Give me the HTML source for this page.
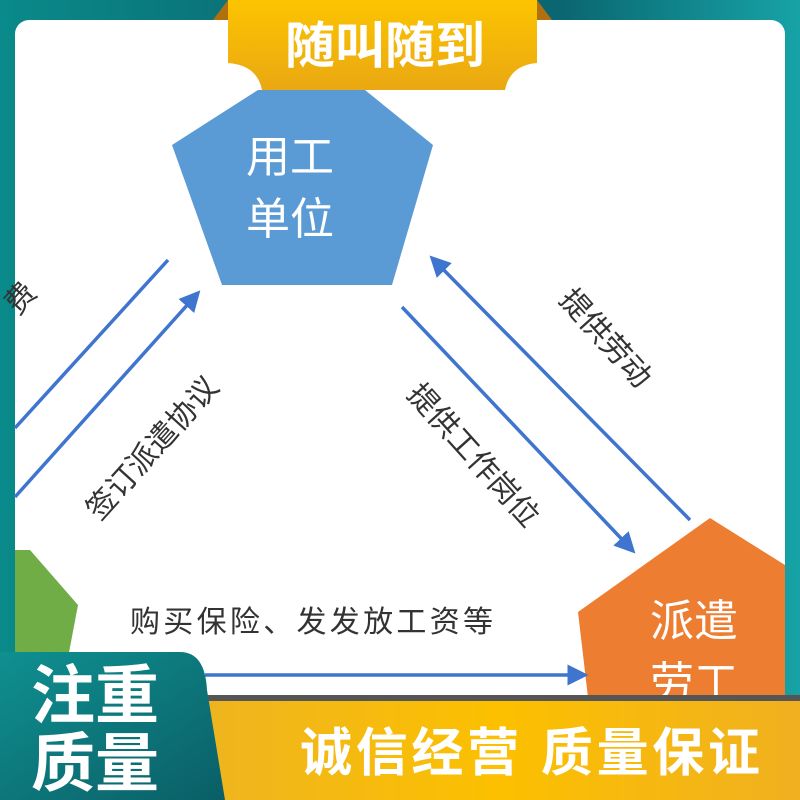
<!DOCTYPE html>
<html><head><meta charset="utf-8"><style>
html,body{margin:0;padding:0;}
body{width:800px;height:800px;overflow:hidden;position:relative;background:linear-gradient(90deg,#0a8a8a,#0b6a72 40%,#0a6670 70%,#17a3a6);font-family:"Liberation Sans","Noto Sans CJK SC",sans-serif;}
.panel{position:absolute;left:15px;top:20px;width:770px;height:780px;background:#fff;border-radius:14px 14px 0 0;}
svg{position:absolute;left:0;top:0;}
</style></head><body>
<div class="panel"></div>
<svg width="800" height="800" viewBox="0 0 800 800">
<defs>
<linearGradient id="yt" x1="0" y1="0" x2="0" y2="1"><stop offset="0" stop-color="#fcc400"/><stop offset="1" stop-color="#eaa812"/></linearGradient>
<linearGradient id="yb" x1="0" y1="0" x2="1" y2="0"><stop offset="0" stop-color="#eeb420"/><stop offset="0.5" stop-color="#fcc000"/><stop offset="1" stop-color="#f0b020"/></linearGradient>
<linearGradient id="tl" x1="0" y1="0" x2="1" y2="1"><stop offset="0" stop-color="#0f9090"/><stop offset="1" stop-color="#0a5e66"/></linearGradient>
<marker id="ah" markerWidth="6" markerHeight="6" refX="5" refY="3" orient="auto" markerUnits="strokeWidth"><path d="M0,0 L6,3 L0,6 z" fill="#3f74cf"/></marker>
</defs>
<path d="M213,20 L228,0 L228,20 Z" fill="#b07010"/>
<path d="M537,0 L552,20 L537,20 Z" fill="#b07010"/>
<path d="M228,0 H537 V63 Q510,65 505,90 H262 Q257,65 228,63 Z" fill="url(#yt)"/>
<text x="385" y="63" font-size="50" font-weight="bold" fill="#fff" text-anchor="middle">随叫随到</text>
<polygon points="258,90 365,90 433,145 392,285 222,285 172,145" fill="#5b9bd5"/>
<text x="290" y="172" font-size="44" fill="#fff" text-anchor="middle">用工</text>
<text x="290" y="234" font-size="44" fill="#fff" text-anchor="middle">单位</text>
<polygon points="15,550 30,550 78,605 60,700 15,700" fill="#70ad47"/>
<polygon points="710,518 785,565 785,800 600,800 578,612" fill="#ed7d31"/>
<text x="694" y="636" font-size="44" fill="#fff" text-anchor="middle">派遣</text>
<text x="694" y="698" font-size="44" fill="#fff" text-anchor="middle">劳工</text>
<g stroke="#3f74cf" stroke-width="3.5" fill="none">
<line x1="15" y1="428" x2="168" y2="260"/>
<line x1="15" y1="497" x2="198" y2="293" marker-end="url(#ah)"/>
<line x1="690" y1="520" x2="432" y2="258" marker-end="url(#ah)"/>
<line x1="402" y1="307" x2="633" y2="551" marker-end="url(#ah)"/>
<line x1="205" y1="675" x2="585" y2="675" marker-end="url(#ah)"/>
</g>
<g font-size="30" fill="#333">
<text transform="translate(28,305) rotate(-48)" text-anchor="middle">费</text>
<text transform="translate(160,455) rotate(-48)" text-anchor="middle">签订派遣协议</text>
<text transform="translate(598,345) rotate(48)" text-anchor="middle">提供劳动</text>
<text transform="translate(466,462) rotate(48)" text-anchor="middle">提供工作岗位</text>
<text x="130" y="632" textLength="363">购买保险、发发放工资等</text>
</g>
<rect x="200" y="697" width="600" height="103" fill="url(#yb)"/>
<rect x="200" y="695" width="600" height="6" fill="#555"/>
<path d="M0,652 H180 Q205,652 207,690 L225,800 H0 Z" fill="url(#tl)"/>
<text x="95" y="718" font-size="64" font-weight="bold" fill="#fff" text-anchor="middle">注重</text>
<text x="95" y="786" font-size="64" font-weight="bold" fill="#fff" text-anchor="middle">质量</text>
<text x="300" y="771" font-size="52" font-weight="bold" fill="#fff" textLength="460">诚信经营  质量保证</text>
</svg>
</body></html>
